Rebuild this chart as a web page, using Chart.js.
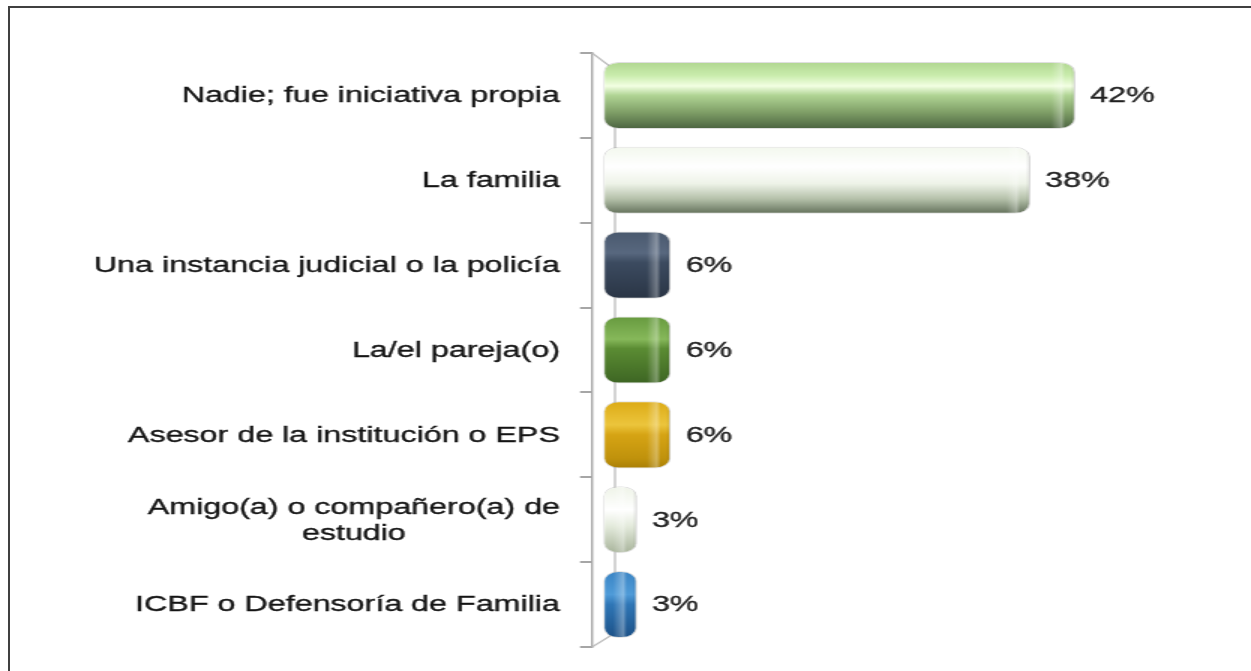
<!DOCTYPE html>
<html><head><meta charset="utf-8">
<script src="https://cdn.jsdelivr.net/npm/chart.js@4.4.1/dist/chart.umd.min.js"></script>
<style>
html,body{margin:0;padding:0;background:#fff;overflow:hidden;}
#wrap{position:relative;width:1251px;height:671px;overflow:hidden;background:#fff;}
#frame{position:absolute;left:8px;top:6px;right:-10px;bottom:-10px;border-left:2px solid #404040;border-top:2px solid #404040;}
#c{position:absolute;left:0;top:0;transform:scaleX(1.5);transform-origin:0 0;}
</style></head><body>
<div id="wrap"><div id="frame"></div><canvas id="c" width="834" height="671"></canvas></div>
<script>
// ---- data ----
const categories = [
  "Nadie; fue iniciativa propia",
  "La familia",
  "Una instancia judicial o la policía",
  "La/el pareja(o)",
  "Asesor de la institución o EPS",
  ["Amigo(a) o compañero(a) de", "estudio"],
  "ICBF o Defensoría de Familia"
];
const values = [42, 38, 6, 6, 6, 3, 3];
const valueSuffix = "%";

// ---- styles ----
const barStops = [
  [[0,'#b0d690'],[0.2,'#c9ecac'],[0.36,'#f2ffe2'],[0.5,'#b0d494'],[0.75,'#7f9f67'],[1,'#4b6340']],
  [[0,'#f3f8ee'],[0.3,'#ffffff'],[0.55,'#eef3e8'],[0.78,'#b4c0a9'],[1,'#62705a']],
  [[0,'#4a596e'],[0.32,'#58687f'],[0.46,'#3c4b60'],[1,'#2a3545']],
  [[0,'#679a3f'],[0.34,'#86b85a'],[0.48,'#5b8c33'],[1,'#3d6523']],
  [[0,'#dcab16'],[0.35,'#ecc53c'],[0.5,'#d6a414'],[0.85,'#c0920c'],[1,'#a97f06']],
  [[0,'#eef3e7'],[0.35,'#ffffff'],[0.6,'#e3eadb'],[1,'#a7b39a']],
  [[0,'#3a84c4'],[0.35,'#4f9bd8'],[0.5,'#2f76b6'],[1,'#1c5187']]
];
const BAR_PCT = 0.79;
const FONT = '"Liberation Sans", Arial, sans-serif';
const FONT_SIZE = 21.5;

function gradFor(ctx) {
  const chart = ctx.chart;
  const stops = barStops[ctx.dataIndex];
  const ys = chart.scales.y;
  if (!chart.chartArea || !ys) return stops[0][1];
  const yc = ys.getPixelForValue(ctx.dataIndex);
  const h = (ys.bottom - ys.top) / categories.length * BAR_PCT;
  const g = chart.ctx.createLinearGradient(0, yc - h/2, 0, yc + h/2);
  stops.forEach(s => g.addColorStop(s[0], s[1]));
  return g;
}

const wallPlugin = {
  id: 'wall',
  beforeDatasetsDraw(chart) {
    const {ctx, chartArea} = chart;
    const ax = chartArea.left, t = chartArea.top, b = chartArea.bottom, d = 15.3;
    ctx.save();
    ctx.strokeStyle = '#bdbdbd';
    ctx.lineWidth = 1.3;
    ctx.beginPath();
    ctx.moveTo(ax, t); ctx.lineTo(ax + d, t + 17);
    ctx.lineTo(ax + d, b - 14); ctx.lineTo(ax, b);
    ctx.stroke();
    ctx.restore();
  }
};

function drawText(ctx, txt, x, y) {
  ctx.fillText(txt, x, y);
  ctx.strokeText(txt, x, y);
}

const decoPlugin = {
  id: 'deco',
  afterDatasetsDraw(chart) {
    const {ctx} = chart;
    const meta = chart.getDatasetMeta(0);
    meta.data.forEach((el, i) => {
      const x0 = Math.min(el.base, el.x), x1 = Math.max(el.base, el.x);
      const y0 = el.y - el.height/2, h = el.height, w = x1 - x0;
      ctx.save();
      ctx.beginPath();
      ctx.roundRect(x0, y0, w, h, Math.min(10, w/2));
      ctx.clip();
      const g = ctx.createLinearGradient(x1 - 16, 0, x1, 0);
      g.addColorStop(0, 'rgba(255,255,255,0)');
      g.addColorStop(0.42, 'rgba(255,255,255,0.32)');
      g.addColorStop(0.58, 'rgba(255,255,255,0)');
      g.addColorStop(0.8, 'rgba(0,0,0,0)');
      g.addColorStop(1, 'rgba(0,0,0,0.1)');
      ctx.fillStyle = g;
      ctx.fillRect(x1 - 16, y0, 16, h);
      ctx.restore();
      // value label
      ctx.save();
      ctx.font = FONT_SIZE + 'px ' + FONT;
      ctx.fillStyle = '#222';
      ctx.strokeStyle = '#222';
      ctx.lineWidth = 0.35;
      ctx.textAlign = 'left';
      ctx.textBaseline = 'middle';
      drawText(ctx, values[i] + valueSuffix, x1 + 10, el.y + 1);
      ctx.restore();
    });
  },
  afterDraw(chart) {
    const {ctx, chartArea} = chart;
    const ys = chart.scales.y;
    const right = chartArea.left - 21.4;
    ctx.save();
    ctx.font = FONT_SIZE + 'px ' + FONT;
    ctx.fillStyle = '#151515';
    ctx.strokeStyle = '#151515';
    ctx.lineWidth = 0.35;
    ctx.textBaseline = 'middle';
    categories.forEach((lab, i) => {
      const lines = Array.isArray(lab) ? lab : [lab];
      const yc = ys.getPixelForValue(i);
      const lh = 26;
      const maxW = Math.max(...lines.map(l => ctx.measureText(l).width));
      const cx = right - maxW/2;
      ctx.textAlign = 'center';
      lines.forEach((l, k) => {
        const y = yc + (k - (lines.length - 1)/2) * lh + 1;
        drawText(ctx, l, cx, y);
      });
    });
    ctx.restore();
  }
};

new Chart(document.getElementById('c'), {
  type: 'bar',
  data: {
    labels: categories,
    datasets: [{
      data: values,
      backgroundColor: gradFor,
      borderColor: 'rgba(110,110,110,0.22)',
      borderWidth: 1,
      borderRadius: 10,
      borderSkipped: false,
      categoryPercentage: 1,
      barPercentage: BAR_PCT
    }]
  },
  options: {
    indexAxis: 'y',
    responsive: false,
    animation: false,
    layout: { padding: { left: 386.7, right: 94.7, top: 53, bottom: 24 } },
    plugins: { legend: { display: false }, tooltip: { enabled: false } },
    scales: {
      x: { display: false, min: -1, max: 45 },
      y: {
        offset: true,
        afterFit(s) { s.width = 8; },
        ticks: { display: false },
        grid: { offset: true, drawOnChartArea: false, drawTicks: true, tickLength: 8, color: '#a6a6a6', lineWidth: 2 },
        border: { display: true, color: '#a6a6a6', width: 1.4 }
      }
    }
  },
  plugins: [wallPlugin, decoPlugin]
});
</script>
</body></html>
